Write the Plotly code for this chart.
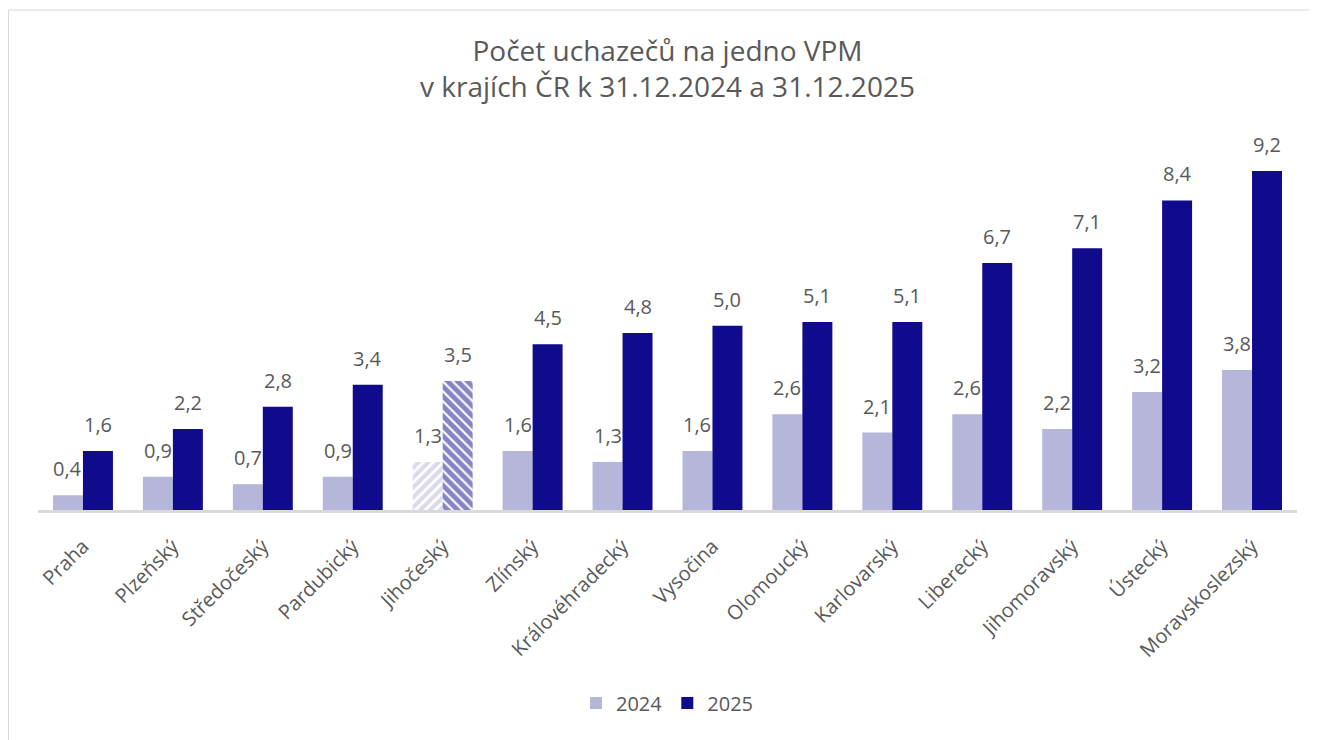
import plotly.graph_objects as go

regions = ["Praha", "Plzeňský", "Středočeský", "Pardubický", "Jihočeský", "Zlínský",
           "Královéhradecký", "Vysočina", "Olomoucký", "Karlovarský", "Liberecký",
           "Jihomoravský", "Ústecký", "Moravskoslezský"]
v2024 = [0.4, 0.9, 0.7, 0.9, 1.3, 1.6, 1.3, 1.6, 2.6, 2.1, 2.6, 2.2, 3.2, 3.8]
v2025 = [1.6, 2.2, 2.8, 3.4, 3.5, 4.5, 4.8, 5.0, 5.1, 5.1, 6.7, 7.1, 8.4, 9.2]
highlight = "Jihočeský"

C24 = "#B6B5DA"
C25 = "#100A8C"
TXT = "#595959"
FONT = "Open Sans"

W, H = 1317, 740
L, R, T, B = 30, 28, 122, 238
pw, ph = W - L - R, H - T - B
PX_PER_UNIT = 36.85
BAR_HALF = 15


def fmt(v):
    return f"{v:.1f}".replace(".", ",")


fig = go.Figure()
fig.add_trace(go.Bar(
    name="2024", x=regions, y=v2024,
    marker=dict(color=C24, line=dict(width=0),
                pattern=dict(shape=["/" if r == highlight else "" for r in regions],
                             fgcolor=C24, bgcolor="white", size=7, solidity=0.6)),
))
fig.add_trace(go.Bar(
    name="2025", x=regions, y=v2025,
    marker=dict(color=C25, line=dict(width=0),
                pattern=dict(shape=["\\" if r == highlight else "" for r in regions],
                             fgcolor=C25, bgcolor="white", size=7, solidity=0.72)),
))

annotations = []
for series, shift in ((v2024, -BAR_HALF), (v2025, BAR_HALF)):
    for r, v in zip(regions, series):
        annotations.append(dict(
            x=r, y=v, xref="x", yref="y", text=fmt(v), showarrow=False,
            xshift=shift, yshift=11, yanchor="bottom", xanchor="center",
            font=dict(family=FONT, size=20, color=TXT)))


def px_x(p):
    return (p - L) / pw


def px_y(p):
    return (H - B - p) / ph


fig.update_layout(
    width=W, height=H,
    margin=dict(l=L, r=R, t=T, b=B, autoexpand=False),
    paper_bgcolor="white", plot_bgcolor="white",
    barmode="group", bargap=1/3, bargroupgap=0,
    title=dict(text="Počet uchazečů na jedno VPM<br>v krajích ČR k 31.12.2024 a 31.12.2025",
               x=0.5, xanchor="center", xref="paper", y=1 - 53 / H, yanchor="top",
               font=dict(family=FONT, size=28, color=TXT)),
    font=dict(family=FONT, color=TXT),
    showlegend=True,
    legend=dict(orientation="h", x=0.5, xanchor="center", y=px_y(695), yanchor="middle",
                font=dict(size=20, color=TXT, family=FONT), traceorder="normal"),
    xaxis=dict(showline=True, linecolor="#D9D9D9", linewidth=2.5, ticks="",
               tickangle=-45, tickfont=dict(size=20, color=TXT, family=FONT),
               ticklabelstandoff=14, showgrid=False, automargin=False),
    yaxis=dict(visible=False, range=[0, ph / PX_PER_UNIT], showgrid=False, zeroline=False),
    annotations=annotations,
    shapes=[dict(type="rect", xref="paper", yref="paper",
                 x0=px_x(0.5), x1=px_x(W + 5), y0=px_y(H + 5), y1=px_y(2),
                 line=dict(color="#D9D9D9", width=1), layer="below")],
)

fig.write_html("out.html")
